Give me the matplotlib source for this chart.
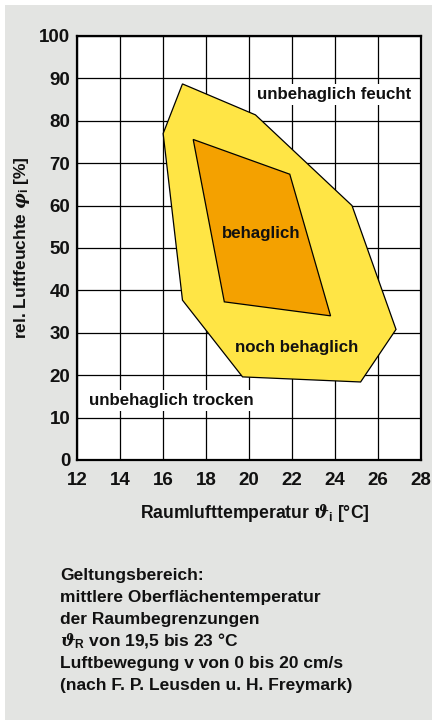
import matplotlib
matplotlib.use("Agg")
import matplotlib.pyplot as plt
from matplotlib.patches import Polygon, Rectangle

# Axis ticks
temp_ticks = [12, 14, 16, 18, 20, 22, 24, 26, 28]
hum_ticks = [0, 10, 20, 30, 40, 50, 60, 70, 80, 90, 100]

# "noch behaglich" zone (room air temperature in °C, relative humidity in %)
outer_temp = [16.0, 16.9, 20.3, 24.8, 26.85, 25.2, 19.7, 16.9]
outer_hum = [77.0, 88.7, 81.4, 60.0, 30.8, 18.4, 19.6, 37.7]

# "behaglich" zone
inner_temp = [17.4, 21.9, 23.8, 18.85]
inner_hum = [75.6, 67.4, 34.0, 37.3]

footer_lines = [
    "Geltungsbereich:",
    "mittlere Oberflächentemperatur",
    "der Raumbegrenzungen",
    r"$\vartheta_\mathbf{R}$ von 19,5 bis 23 °C",
    "Luftbewegung v von 0 bis 20 cm/s",
    "(nach F. P. Leusden u. H. Freymark)",
]

plt.rcParams['font.family'] = ['Liberation Sans', 'DejaVu Sans']
plt.rcParams['font.weight'] = 'bold'
plt.rcParams['mathtext.fontset'] = 'custom'
plt.rcParams['mathtext.rm'] = 'Liberation Sans:bold'
plt.rcParams['mathtext.bf'] = 'Liberation Sans:bold'
plt.rcParams['mathtext.it'] = 'DejaVu Serif:italic'
plt.rcParams['mathtext.fallback'] = 'cm'

W, H = 433, 720
fig = plt.figure(figsize=(W / 100, H / 100), dpi=100)
fig.patch.set_facecolor('white')
fig.patches.append(Rectangle((5 / W, 0), 427 / W, 715 / H, transform=fig.transFigure,
                             facecolor='#e3e4e2', edgecolor='none', zorder=-10))

ax = fig.add_axes([77.3 / W, 1 - 460 / H, 343.4 / W, 424 / H])
ax.set_facecolor('white')
ax.set_xlim(temp_ticks[0], temp_ticks[-1])
ax.set_ylim(hum_ticks[0], hum_ticks[-1])
ax.set_xticks(temp_ticks)
ax.set_yticks(hum_ticks)
ax.tick_params(length=0, labelsize=13.5, colors='#111111')
ax.tick_params(axis='x', pad=9)
ax.tick_params(axis='y', pad=5)
for lab in ax.get_xticklabels() + ax.get_yticklabels():
    lab.set_fontweight('bold')
ax.set_axisbelow(True)
ax.grid(True, color='black', linewidth=0.9)
for sp in ax.spines.values():
    sp.set_linewidth(1.6)
    sp.set_zorder(5)

ax.add_patch(Polygon(list(zip(outer_temp, outer_hum)), closed=True,
                     facecolor='#ffe545', edgecolor='black', linewidth=0.9, zorder=2))
ax.add_patch(Polygon(list(zip(inner_temp, inner_hum)), closed=True,
                     facecolor='#f4a100', edgecolor='black', linewidth=0.9, zorder=3))

zone_font = dict(fontsize=12.2, fontweight='bold', color='#111111', zorder=4)
ax.text(23.95, 86.2, "unbehaglich feucht", ha='center', va='center',
        bbox=dict(facecolor='white', edgecolor='none', pad=2), **zone_font)
ax.text(16.4, 14.0, "unbehaglich trocken", ha='center', va='center',
        bbox=dict(facecolor='white', edgecolor='none', pad=2), **zone_font)
ax.text(20.55, 53.5, "behaglich", ha='center', va='center', **zone_font)
ax.text(22.2, 26.5, "noch behaglich", ha='center', va='center', **zone_font)

fig.text(22 / W, 1 - 248 / H, r"rel. Luftfeuchte $\varphi_\mathrm{i}$ [%]", rotation=90,
         ha='center', va='center', fontsize=12.5, fontweight='bold', color='#111111')
fig.text(254.7 / W, 1 - 513 / H, r"Raumlufttemperatur $\vartheta_\mathbf{i}$ [°C]",
         ha='center', va='center', fontsize=12.7, fontweight='bold', color='#111111')

baseline0 = 580
for i, line in enumerate(footer_lines):
    fig.text(60 / W, 1 - (baseline0 + 22 * i) / H, line, ha='left', va='baseline',
             fontsize=12.5, fontweight='bold', color='#111111')

fig.savefig("out.png", dpi=100)
